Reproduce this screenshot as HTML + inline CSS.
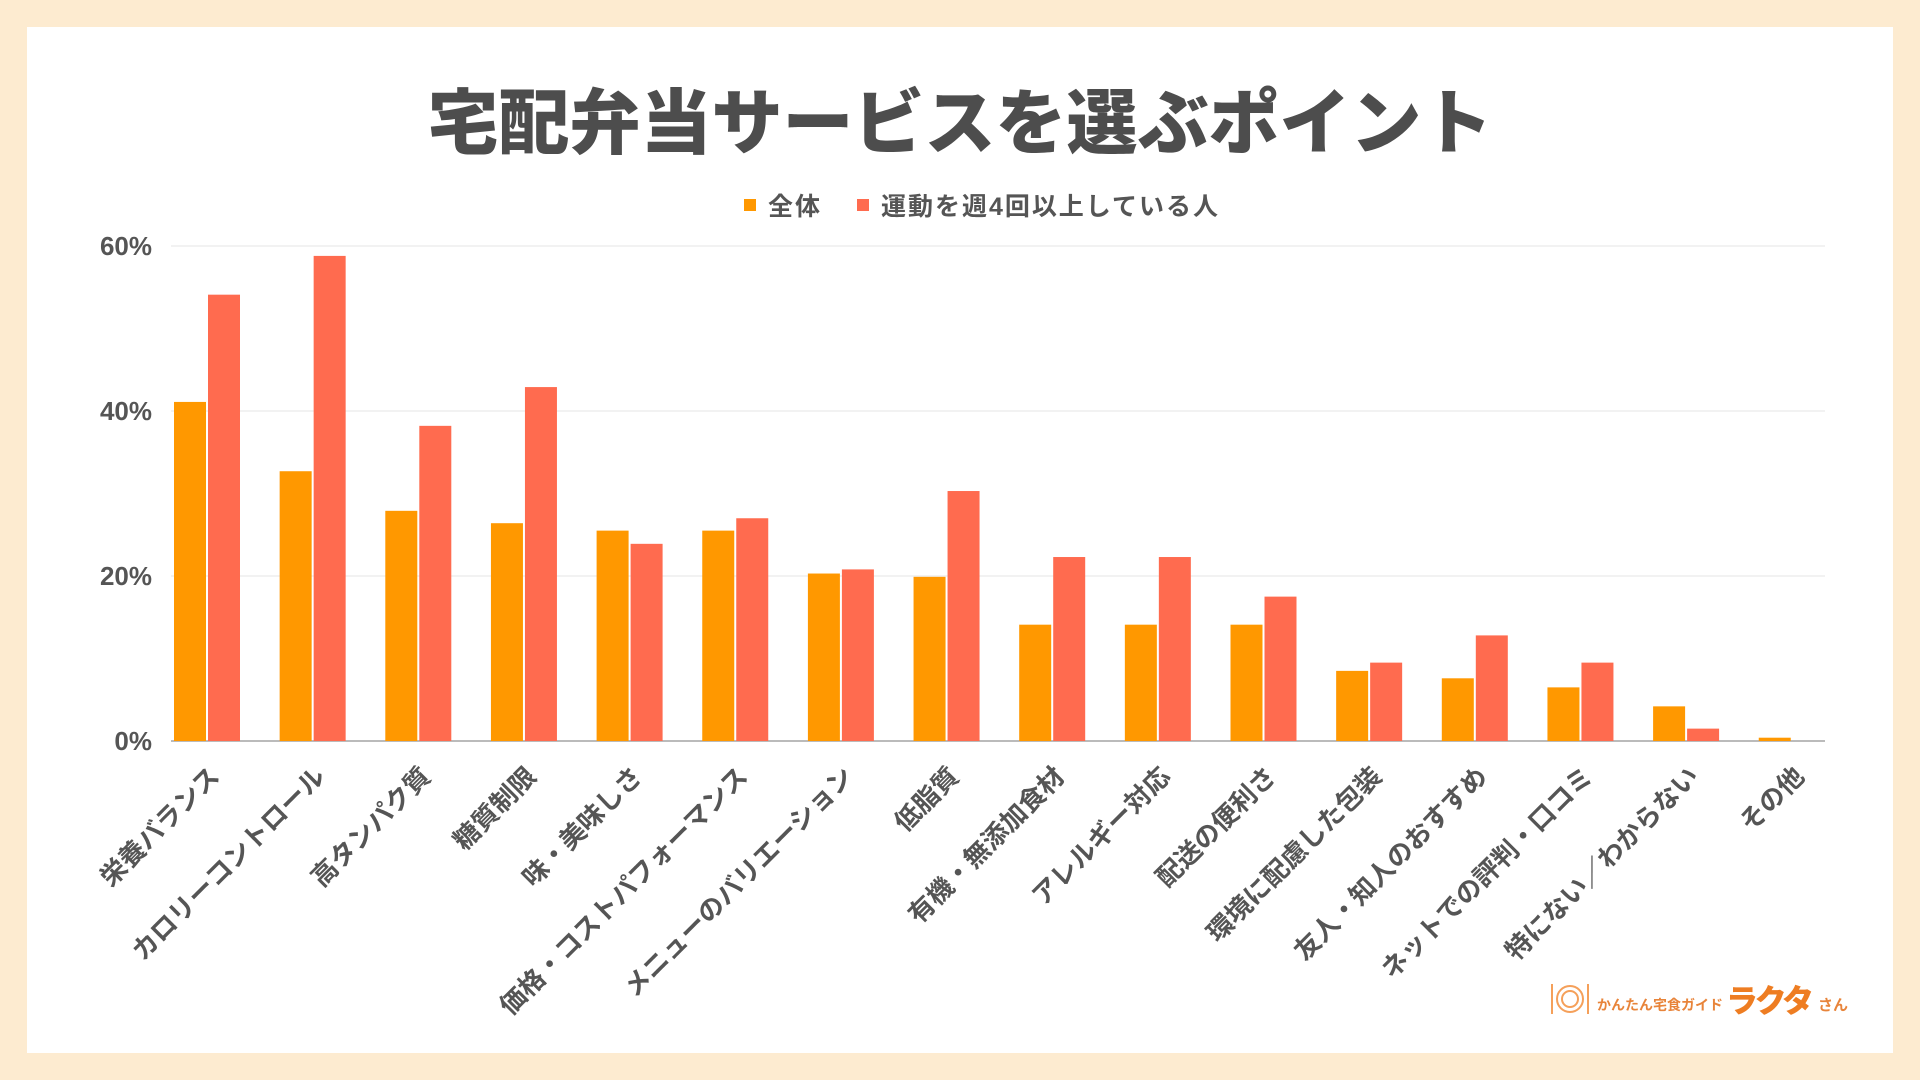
<!DOCTYPE html>
<html><head><meta charset="utf-8"><style>
body{margin:0;width:1920px;height:1080px;background:#fdebd0;overflow:hidden;font-family:"Liberation Sans","Noto Sans CJK JP",sans-serif;}
#card{position:absolute;left:27px;top:27px;width:1866px;height:1026px;background:#fff;}
</style></head><body>
<div id="card"></div>
<svg id="chart" width="1920" height="1080" style="position:absolute;left:0;top:0">
<text x="960" y="148" text-anchor="middle" font-size="71" font-weight="900" fill="#4d4d4d">宅配弁当サービスを選ぶポイント</text>
<g>
<rect x="744" y="199" width="12" height="12" fill="#ff9800"/>
<text x="768" y="215" font-size="25" font-weight="bold" fill="#555" textLength="52">全体</text>
<rect x="857" y="199" width="12" height="12" fill="#ff6b4f"/>
<text x="881" y="215" font-size="25" font-weight="bold" fill="#555" textLength="337">運動を週4回以上している人</text>
</g>
<g id="grid"></g><g id="bars"></g><g id="labels"></g>
<g>
<g stroke="#f5a05a" stroke-width="2" fill="none">
<line x1="1552" y1="984" x2="1552" y2="1014"/><circle cx="1570" cy="999" r="13"/><circle cx="1570" cy="999" r="8"/><line x1="1588" y1="984" x2="1588" y2="1014"/>
</g>
<text x="1597" y="1010" font-size="14" font-weight="bold" fill="#e8843a">かんたん宅食ガイド</text>
<text x="1726" y="1012" font-size="32" font-weight="900" fill="#ee7d22" textLength="88">ラクタ</text>
<text x="1818" y="1010" font-size="15" font-weight="bold" fill="#e8843a">さん</text>
</g>
</svg>
<script>
const categories=["栄養バランス","カロリーコントロール","高タンパク質","糖質制限","味・美味しさ","価格・コストパフォーマンス","メニューのバリエーション","低脂質","有機・無添加食材","アレルギー対応","配送の便利さ","環境に配慮した包装","友人・知人のおすすめ","ネットでの評判・口コミ","特にない／わからない","その他"];
const allValues=[41.1,32.7,27.9,26.4,25.5,25.5,20.3,19.9,14.1,14.1,14.1,8.5,7.6,6.5,4.2,0.4];
const activeValues=[54.1,58.8,38.2,42.9,23.9,27.0,20.8,30.3,22.3,22.3,17.5,9.5,12.8,9.5,1.5,0];
const yTicks=[0,20,40,60];
const yTickLabels=["0%","20%","40%","60%"];
const NS="http://www.w3.org/2000/svg";
const y0=741,yTop=246,yMax=60;
function yScale(v){return y0-(v/yMax)*(y0-yTop);}
function xCenter(i){return 207+i*105.65;}
function mk(tag,attrs,parent){const e=document.createElementNS(NS,tag);for(const k in attrs)e.setAttribute(k,attrs[k]);parent.appendChild(e);return e;}
const grid=document.getElementById('grid'),bars=document.getElementById('bars'),labels=document.getElementById('labels');
yTicks.forEach((t,i)=>{
 const l=mk('line',{x1:171,x2:1825,y1:yScale(t),y2:yScale(t),stroke:t===0?'#bbb':'#e6e6e6','stroke-width':t===0?2:1},grid);
 
 
 const tx=mk('text',{x:152,y:yScale(t)+9,'text-anchor':'end','font-size':26,'font-weight':'bold',fill:'#555'},grid);
 tx.textContent=yTickLabels[i];
 
 
});
categories.forEach((c,i)=>{
 const cx=xCenter(i);
 const a=mk('rect',{x:cx-33,y:yScale(allValues[i]),width:32,height:y0-yScale(allValues[i]),fill:'#ff9800'},bars);
 
 
 const b=mk('rect',{x:cx+1,y:yScale(activeValues[i]),width:32,height:y0-yScale(activeValues[i]),fill:'#ff6b4f'},bars);
 
 
 const tx=mk('text',{x:0,y:0,'text-anchor':'end','font-size':26,'font-weight':'bold',fill:'#555',transform:`translate(${cx+14},${778}) rotate(-45)`},labels);
 tx.textContent=c;
 
 
});
</script>
</body></html>
